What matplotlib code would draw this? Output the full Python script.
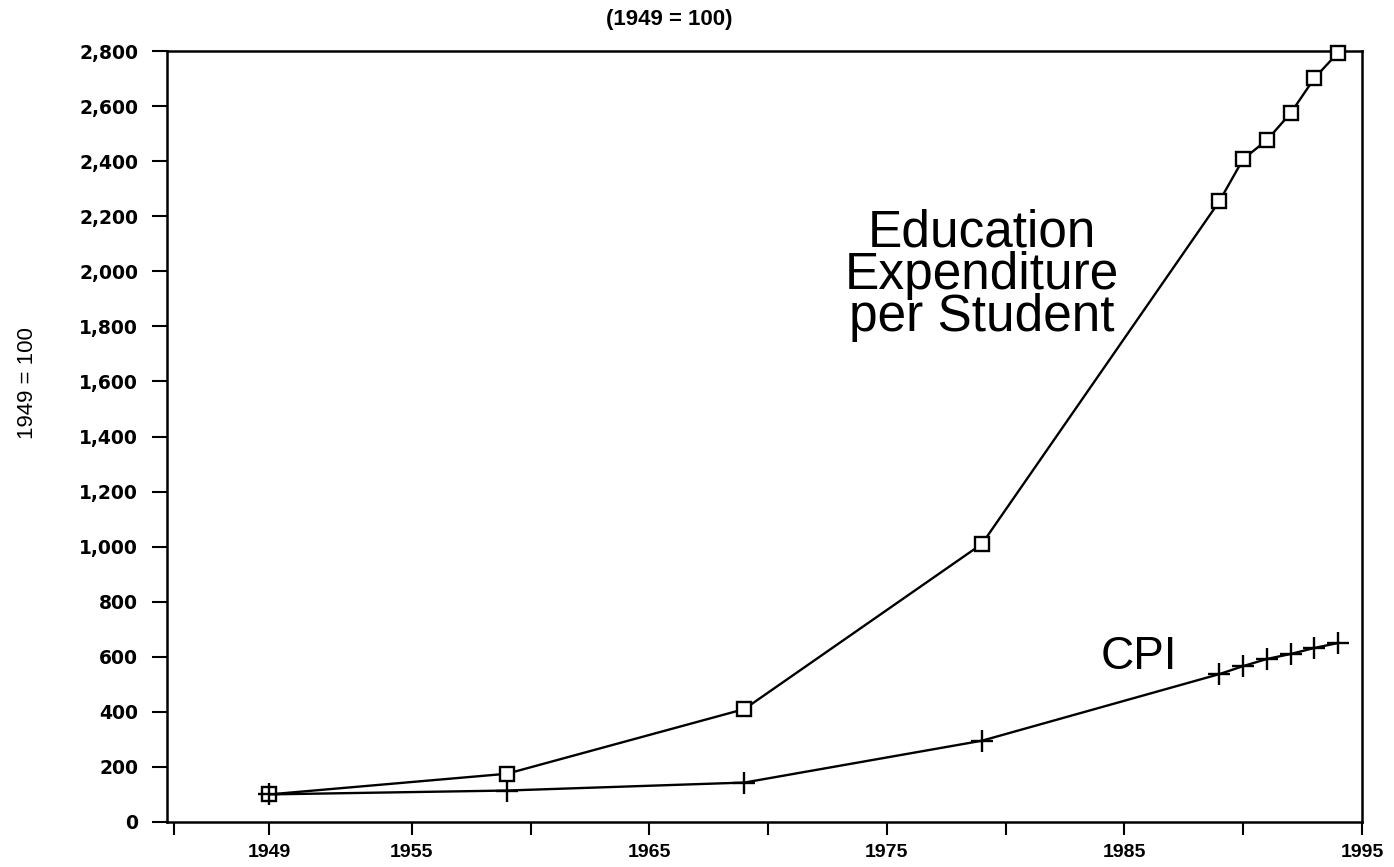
import numpy as np
from matplotlib import pyplot as plt

plt.rcParams['font.family'] = ['Liberation Sans', 'DejaVu Sans']

# index values, 1949 = 100
years = [1949, 1959, 1969, 1979, 1989, 1990, 1991, 1992, 1993, 1994]
education = [100, 175, 410, 1010, 2255, 2408, 2477, 2575, 2702, 2795]
cpi = [100, 114, 143, 295, 537, 566, 592, 610, 632, 650]

xticks = [1945, 1949, 1955, 1960, 1965, 1970, 1975, 1980, 1985, 1990, 1995]
xlabels = ['', '1949', '1955', '', '1965', '', '1975', '', '1985', '', '1995']
yticks = np.arange(0, 2801, 200)

fig = plt.figure(figsize=(13.94, 8.67), dpi=100)
ax = fig.add_axes([0.12, 0.052, 0.857, 0.889])

ax.plot(years, education, color='black', lw=1.7, marker='s', ms=10,
        mfc='white', mec='black', mew=1.7, clip_on=False, zorder=3)
ax.plot(years, cpi, color='black', lw=1.7, marker='+', ms=16,
        mew=1.7, clip_on=False, zorder=3)

ax.set_xlim(1944.7, 1995)
ax.set_ylim(0, 2800)
ax.set_xticks(xticks)
ax.set_xticklabels(xlabels, fontsize=14, fontweight='bold')
ax.set_yticks(yticks)
ax.set_yticklabels([f'{v:,}' for v in yticks], fontsize=13.5,
                   fontweight='bold', family='DejaVu Sans')
ax.tick_params(axis='x', direction='out', length=9, width=1.5, pad=7)
ax.tick_params(axis='y', direction='out', length=11, width=1.5, pad=10)
for s in ax.spines.values():
    s.set_linewidth(1.8)

fig.text(28 / 1394, 1 - 383 / 867, '1949 = 100', fontsize=16, rotation=90,
         ha='center', va='center')
fig.text(669 / 1394, 1 - 20 / 867, '(1949 = 100)', fontsize=16,
         fontweight='bold', ha='center', va='center')

ax.text(1979, 1985, 'Education\nExpenditure\nper Student', fontsize=37,
        ha='center', va='center', linespacing=0.82)
ax.text(1985.6, 600, 'CPI', fontsize=33, ha='center', va='center')

fig.savefig('out.png', dpi=100)
